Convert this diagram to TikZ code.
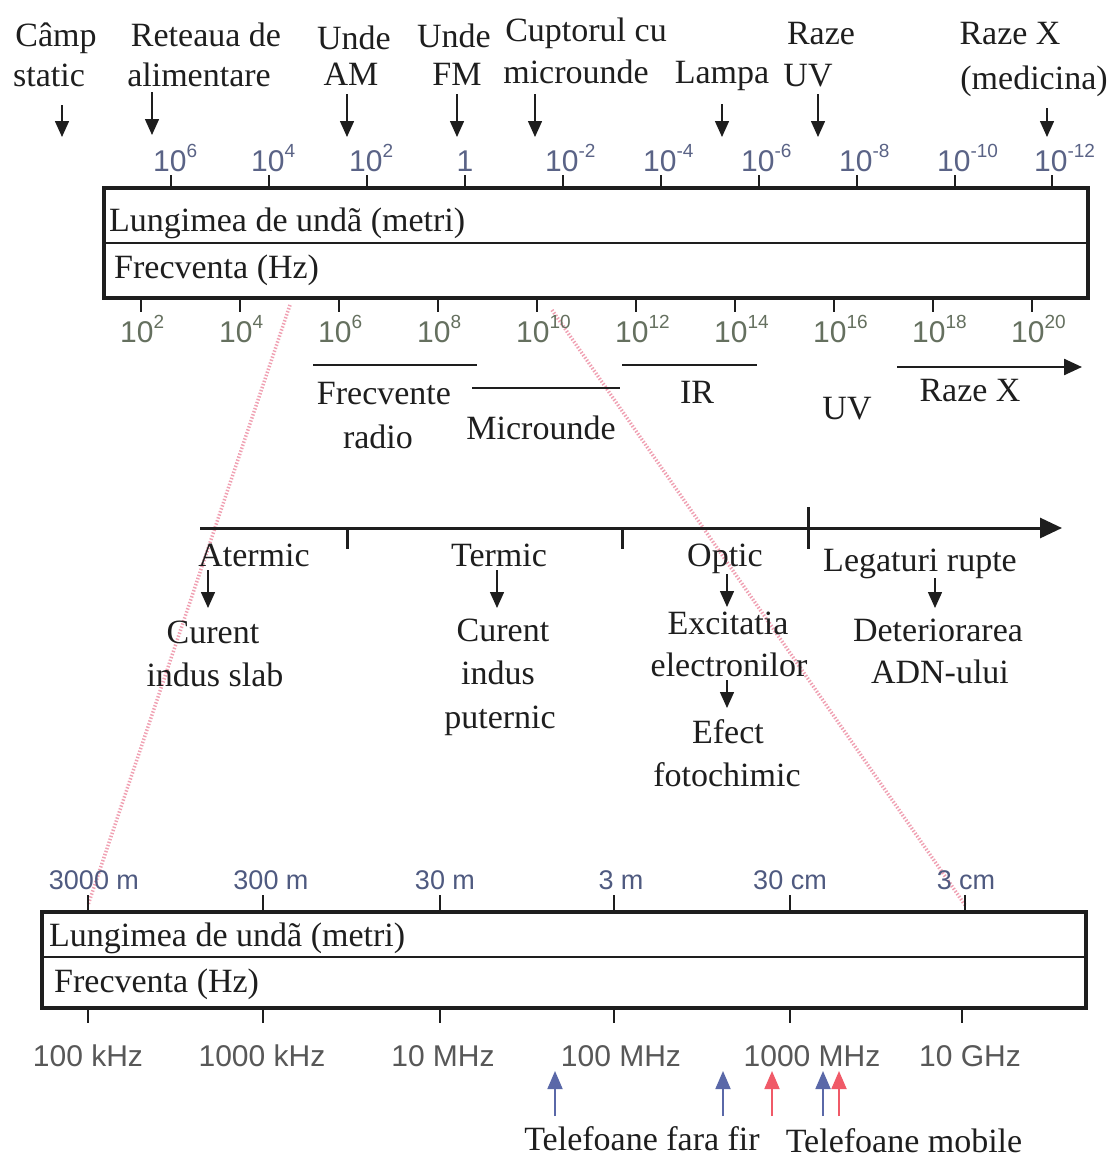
\documentclass[tikz,border=0pt]{standalone}
\usepackage{fontspec}
\setmainfont{Liberation Serif}
\newfontfamily\numfont{Liberation Sans}
\usetikzlibrary{arrows.meta}
\definecolor{wlblue}{HTML}{5A6386}
\definecolor{frgray}{HTML}{65705F}
\definecolor{btblue}{HTML}{4F5A80}
\definecolor{btgray}{HTML}{585858}
\definecolor{pinkln}{HTML}{F0A0B2}
\definecolor{arrblue}{HTML}{5A68A8}
\definecolor{arrred}{HTML}{F05A68}
\definecolor{ink}{HTML}{1E1E1E}
\newcommand{\pw}[1]{10\raisebox{0.45em}{\fontsize{19}{19}\selectfont #1}}
\begin{document}
\begin{tikzpicture}[x=1pt,y=-1pt,
  txt/.style={font=\fontsize{34}{40}\selectfont, inner sep=0pt, anchor=base, text=ink},
  wl/.style={font=\numfont\fontsize{30}{32}\selectfont, inner sep=0pt, anchor=base west, text=wlblue},
  fr/.style={font=\numfont\fontsize{30}{32}\selectfont, inner sep=0pt, anchor=base west, text=frgray},
  btop/.style={font=\numfont\fontsize{27}{30}\selectfont, inner sep=0pt, anchor=base, text=btblue},
  bbot/.style={font=\numfont\fontsize{30}{34}\selectfont, inner sep=0pt, anchor=base, text=btgray},
  darr/.style={draw=ink, line width=1.5pt, -{Triangle[width=14pt,length=16pt]}},
  tick/.style={draw=ink, line width=1.2pt},
  bigtick/.style={draw=ink, line width=3pt},
  box/.style={draw=ink, line width=3.5pt},
  divider/.style={draw=ink, line width=1.8pt},
  band/.style={draw=ink, line width=2.4pt},
  axisln/.style={draw=ink, line width=3pt, -{Triangle[width=20pt,length=22pt]}},
  upb/.style={draw=arrblue, line width=1.8pt, -{Triangle[width=15pt,length=18pt]}},
  upr/.style={draw=arrred, line width=1.8pt, -{Triangle[width=15pt,length=18pt]}},
  pinkdash/.style={draw=pinkln, line width=3.5pt, dash pattern=on 1.4pt off 1.8pt}
]
\useasboundingbox[fill=white] (0,0) rectangle (1111,1159);

% pink zoom guide lines
\coordinate (pl1) at (290,305); \coordinate (pl2) at (88,905);
\coordinate (pr1) at (552,310); \coordinate (pr2) at (965,905);
\draw[pinkdash] (pl1) -- (pl2);
\draw[pinkdash] (pr1) -- (pr2);

% ---------- top labels ----------
\node[txt] (lCamp1) at (56,46) {Câmp};
\node[txt] (lCamp2) at (49,86) {static};
\node[txt] (lRet1) at (206,46) {Reteaua de};
\node[txt] (lRet2) at (199,86) {alimentare};
\node[txt] (lAM1) at (354,49) {Unde};
\node[txt] (lAM2) at (351,85) {AM};
\node[txt] (lFM1) at (454,47) {Unde};
\node[txt] (lFM2) at (457,85) {FM};
\node[txt] (lCup1) at (586,41) {Cuptorul cu};
\node[txt] (lCup2) at (576,83) {microunde};
\node[txt] (lLamp) at (722,83) {Lampa};
\node[txt] (lUV1) at (821,44) {Raze};
\node[txt] (lUV2) at (808,86) {UV};
\node[txt] (lX1) at (1010,44) {Raze X};
\node[txt] (lX2) at (1034,89) {(medicina)};

\coordinate (a1s) at (62,105);  \coordinate (a1e) at (62,137);
\coordinate (a2s) at (152,92);  \coordinate (a2e) at (152,135);
\coordinate (a3s) at (347,94);  \coordinate (a3e) at (347,137);
\coordinate (a4s) at (457,94);  \coordinate (a4e) at (457,137);
\coordinate (a5s) at (535,94);  \coordinate (a5e) at (535,137);
\coordinate (a6s) at (722,104); \coordinate (a6e) at (722,137);
\coordinate (a7s) at (818,94);  \coordinate (a7e) at (818,137);
\coordinate (a8s) at (1047,108);\coordinate (a8e) at (1047,137);
\foreach \i in {1,...,8} \draw[darr] (a\i s) -- (a\i e);

% ---------- top scale ----------
\foreach \x in {171,269,367,465,563,661,759,857,955,1052} \draw[tick] (\x,175) -- (\x,189);
\foreach \x/\e in {171/6,269/4,367/2,563/-2,661/-4,759/-6,857/-8,955/-10,1052/-12}
  \node[wl] (w\x) at (\x-18,171) {\pw{\e}};
\node[wl, anchor=base] (w465) at (465,171) {1};

\draw[box] (104,188) rectangle (1088,298);
\draw[divider] (104,243) -- (1088,243);
\node[txt, anchor=base west] (tW) at (109,231) {Lungimea de undã (metri)};
\node[txt, anchor=base west] (tF) at (114,278) {Frecventa (Hz)};

\foreach \x in {141,240,339,438,537,636,735,834,933,1032} \draw[tick] (\x,298) -- (\x,312);
\foreach \x/\e in {141/2,240/4,339/6,438/8,537/10,636/12,735/14,834/16,933/18,1032/20}
  \node[fr] (f\x) at (\x-21,342) {\pw{\e}};

% bands
\draw[band] (313,365) -- (477,365);
\draw[band] (472,388) -- (620,388);
\draw[band] (622,365) -- (757,365);
\coordinate (rxs) at (897,367); \coordinate (rxe) at (1082,367);
\draw[band, -{Triangle[width=16pt,length=18pt]}] (rxs) -- (rxe);
\node[txt] (bFr1) at (384,404) {Frecvente};
\node[txt] (bFr2) at (378,448) {radio};
\node[txt] (bMic) at (541,439) {Microunde};
\node[txt] (bIR) at (697,403) {IR};
\node[txt] (bUV) at (847,419) {UV};
\node[txt] (bX) at (970,401) {Raze X};

% ---------- middle effects axis ----------
\coordinate (axS) at (200,528); \coordinate (axE) at (1062,528);
\draw[axisln] (axS) -- (axE);
\draw[bigtick] (347,528) -- (347,549);
\draw[bigtick] (622,528) -- (622,549);
\draw[bigtick] (808,507) -- (808,549);

\node[txt] (eAt) at (254,566) {Atermic};
\node[txt] (eTe) at (499,566) {Termic};
\node[txt] (eOp) at (725,566) {Optic};
\node[txt] (eLe) at (920,571) {Legaturi rupte};

\coordinate (m1s) at (208,570); \coordinate (m1e) at (208,608);
\coordinate (m2s) at (497,570); \coordinate (m2e) at (497,608);
\coordinate (m3s) at (727,574); \coordinate (m3e) at (727,607);
\coordinate (m4s) at (935,578); \coordinate (m4e) at (935,608);
\coordinate (m5s) at (727,680); \coordinate (m5e) at (727,708);
\foreach \i in {1,...,5} \draw[darr] (m\i s) -- (m\i e);

\node[txt] (cA1) at (213,643) {Curent};
\node[txt] (cA2) at (215,686) {indus slab};
\node[txt] (cT1) at (503,641) {Curent};
\node[txt] (cT2) at (498,684) {indus};
\node[txt] (cT3) at (500,728) {puternic};
\node[txt] (cO1) at (728,634) {Excitatia};
\node[txt] (cO2) at (729,676) {electronilor};
\node[txt] (cO3) at (728,743) {Efect};
\node[txt] (cO4) at (727,786) {fotochimic};
\node[txt] (cL1) at (938,641) {Deteriorarea};
\node[txt] (cL2) at (940,683) {ADN-ului};

% ---------- bottom scale ----------
\foreach \x in {88,263,440,614,790,965} \draw[tick] (\x,895) -- (\x,912);
\node[btop] (u1) at (94,889) {3000 m};
\node[btop] (u2) at (271,889) {300 m};
\node[btop] (u3) at (445,889) {30 m};
\node[btop] (u4) at (621,889) {3 m};
\node[btop] (u5) at (790,889) {30 cm};
\node[btop] (u6) at (966,889) {3 cm};

\draw[box] (42,912) rectangle (1086,1008);
\draw[divider] (42,957) -- (1086,957);
\node[txt, anchor=base west] (bW) at (49,946) {Lungimea de undã (metri)};
\node[txt, anchor=base west] (bF) at (54,992) {Frecventa (Hz)};

\foreach \x in {88,263,440,614,790,962} \draw[tick] (\x,1008) -- (\x,1023);
\node[bbot] (g1) at (88,1066) {100 kHz};
\node[bbot] (g2) at (262,1066) {1000 kHz};
\node[bbot] (g3) at (443,1066) {10 MHz};
\node[bbot] (g4) at (621,1066) {100 MHz};
\node[bbot] (g5) at (812,1066) {1000 MHz};
\node[bbot] (g6) at (970,1066) {10 GHz};

\coordinate (p1s) at (555,1116); \coordinate (p1e) at (555,1071);
\coordinate (p2s) at (723,1116); \coordinate (p2e) at (723,1071);
\coordinate (p3s) at (772,1116); \coordinate (p3e) at (772,1071);
\coordinate (p4s) at (823,1116); \coordinate (p4e) at (823,1071);
\coordinate (p5s) at (839,1116); \coordinate (p5e) at (839,1071);
\draw[upb] (p1s) -- (p1e);
\draw[upb] (p2s) -- (p2e);
\draw[upr] (p3s) -- (p3e);
\draw[upb] (p4s) -- (p4e);
\draw[upr] (p5s) -- (p5e);

\node[txt] (tel1) at (642,1150) {Telefoane fara fir};
\node[txt] (tel2) at (904,1152) {Telefoane mobile};
\end{tikzpicture}
\end{document}
